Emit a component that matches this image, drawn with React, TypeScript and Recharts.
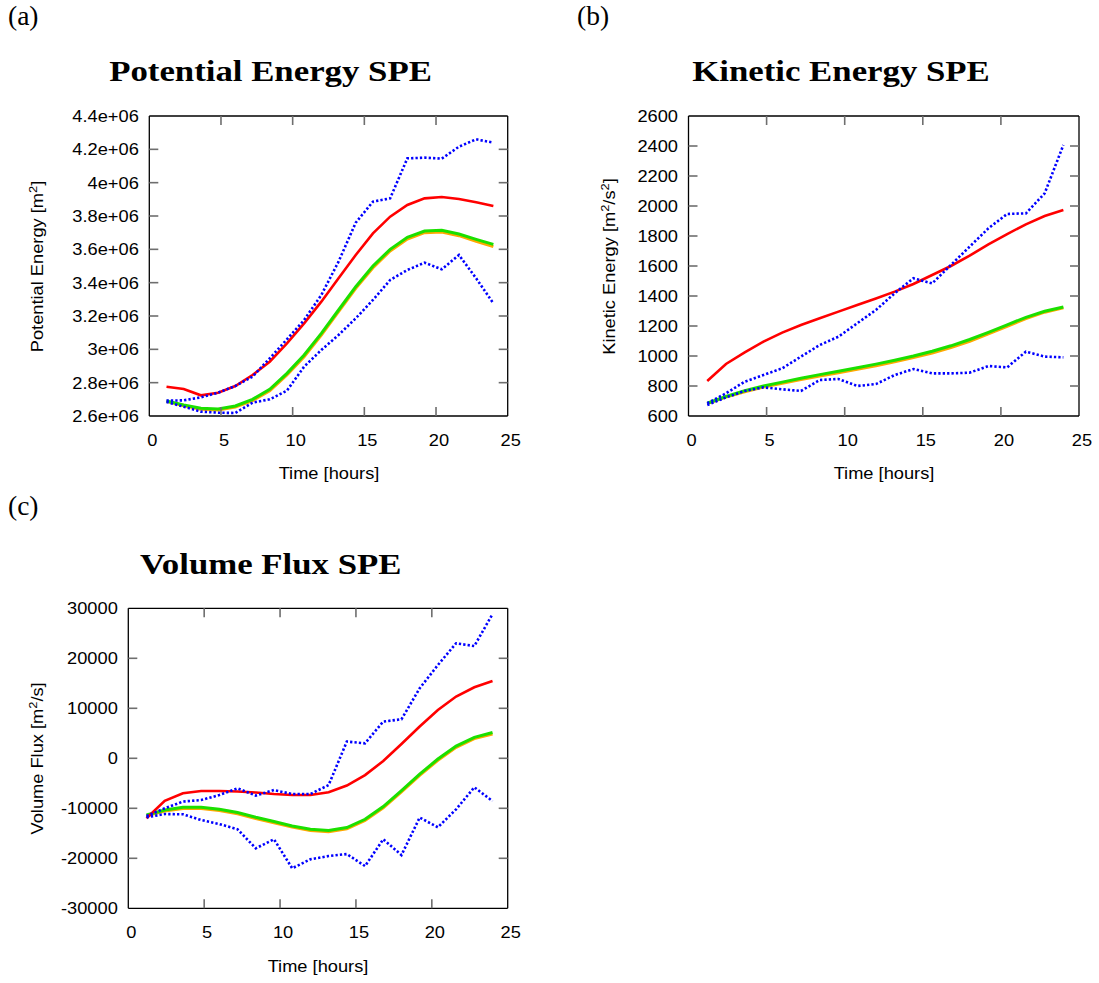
import { LineChart, Line, XAxis, YAxis } from "recharts";

// hours, shared by all three panels
const TIME_H = [1.2, 2.4, 3.6, 4.8, 6, 7.2, 8.4, 9.6, 10.8, 12, 13.2, 14.4, 15.6, 16.8, 18, 19.2, 20.4, 21.6, 22.8, 24];
const X_TICKS = [0, 5, 10, 15, 20, 25];

// (a) potential energy [m^2]
const PE_RED = [2776000, 2762000, 2724000, 2740000, 2780000, 2846000, 2926000, 3036000, 3156000, 3286000, 3426000, 3566000, 3696000, 3796000, 3866000, 3906000, 3914000, 3902000, 3882000, 3860000];
const PE_GREEN = [2690000, 2666000, 2646000, 2642000, 2660000, 2700000, 2760000, 2856000, 2966000, 3096000, 3236000, 3376000, 3500000, 3600000, 3672000, 3710000, 3714000, 3692000, 3660000, 3630000];
const PE_ORANGE = [2688000, 2662000, 2641000, 2636000, 2653000, 2692000, 2751000, 2846000, 2956000, 3086000, 3226000, 3366000, 3490000, 3590000, 3662000, 3700000, 3704000, 3682000, 3648000, 3616000];
const PE_HI = [2692000, 2694000, 2712000, 2740000, 2780000, 2836000, 2946000, 3060000, 3176000, 3326000, 3526000, 3760000, 3886000, 3906000, 4146000, 4150000, 4144000, 4216000, 4260000, 4240000];
const PE_LO = [2684000, 2656000, 2626000, 2620000, 2618000, 2680000, 2700000, 2752000, 2896000, 2996000, 3086000, 3186000, 3296000, 3416000, 3476000, 3520000, 3480000, 3566000, 3426000, 3276000];
const PE_TICKS = [2600000, 2800000, 3000000, 3200000, 3400000, 3600000, 3800000, 4000000, 4200000, 4400000];
const PE_TICK_LABELS = ["2.6e+06", "2.8e+06", "3e+06", "3.2e+06", "3.4e+06", "3.6e+06", "3.8e+06", "4e+06", "4.2e+06", "4.4e+06"];

// (b) kinetic energy [m^2/s^2]
const KE_RED = [833, 947, 1024, 1096, 1156, 1207, 1251, 1296, 1340, 1384, 1429, 1480, 1540, 1600, 1669, 1744, 1813, 1878, 1933, 1973];
const KE_GREEN = [685, 730, 768, 800, 826, 852, 876, 899, 922, 946, 972, 1000, 1032, 1068, 1110, 1158, 1208, 1258, 1298, 1327];
const KE_ORANGE = [682, 726, 762, 793, 818, 843, 866, 889, 912, 935, 961, 989, 1020, 1056, 1098, 1147, 1198, 1250, 1292, 1322];
const KE_HI = [685, 751, 829, 873, 918, 996, 1073, 1129, 1218, 1307, 1418, 1518, 1484, 1607, 1729, 1851, 1947, 1951, 2084, 2407];
const KE_LO = [673, 724, 767, 791, 778, 767, 840, 847, 800, 813, 873, 913, 884, 884, 889, 933, 924, 1029, 996, 991];
const KE_TICKS = [600, 800, 1000, 1200, 1400, 1600, 1800, 2000, 2200, 2400, 2600];
const KE_TICK_LABELS = ["600", "800", "1000", "1200", "1400", "1600", "1800", "2000", "2200", "2400", "2600"];

// (c) volume flux [m^2/s]
const VF_RED = [-12000, -8500, -7000, -6550, -6550, -6650, -6850, -7150, -7350, -7350, -6800, -5450, -3350, -550, 2850, 6350, 9650, 12350, 14200, 15450];
const VF_GREEN = [-11350, -10350, -9800, -9800, -10200, -10850, -11800, -12650, -13550, -14200, -14450, -13850, -12200, -9650, -6450, -3150, -150, 2450, 4200, 5150];
const VF_ORANGE = [-11500, -10550, -10050, -10050, -10450, -11100, -12050, -12900, -13750, -14450, -14700, -14100, -12450, -9900, -6700, -3400, -400, 2200, 3950, 4850];
const VF_HI = [-11550, -10000, -8650, -8350, -7350, -6000, -7450, -6350, -7150, -7150, -5350, 3350, 3000, 7350, 7800, 14000, 18650, 23000, 22450, 28850];
const VF_LO = [-11800, -11150, -11200, -12350, -13150, -14200, -18000, -16200, -22000, -20200, -19550, -19150, -21550, -16200, -19350, -11850, -13800, -10200, -5800, -8550];
const VF_TICKS = [-30000, -20000, -10000, 0, 10000, 20000, 30000];
const VF_TICK_LABELS = ["-30000", "-20000", "-10000", "0", "10000", "20000", "30000"];

const SANS = "'Liberation Sans', Arial, Helvetica, sans-serif";
const SERIF = "'Liberation Serif', 'Times New Roman', serif";
const TICK_COLOR = "#6e6e6e";
const TICK_LEN = 9;
const LABEL_SIZE = 16.3;
const STRETCH = 1.12;

const COLORS = {
  red: "#ff0000",
  green: "#1be000",
  orange: "#ffa800",
  blue: "#0000ff",
};

const styles = {
  page: {
    position: "absolute" as const,
    left: 0,
    top: 0,
    width: 1099,
    height: 983,
    background: "#ffffff",
  },
  overlay: {
    position: "absolute" as const,
    left: 0,
    top: 0,
    pointerEvents: "none" as const,
  },
};

type Row = { t: number; red: number; green: number; orange: number; hi: number; lo: number };

function buildRows(red: number[], green: number[], orange: number[], hi: number[], lo: number[]): Row[] {
  return TIME_H.map((t, i) => ({ t, red: red[i], green: green[i], orange: orange[i], hi: hi[i], lo: lo[i] }));
}

// plot box in chart-local pixels; axes get 1px so recharts still draws them
type Box = { top: number; right: number; bottom: number; left: number };

type PanelProps = {
  left: number;
  top: number;
  width: number;
  height: number;
  plot: Box;
  rows: Row[];
  yTicks: number[];
  yTickLabels: string[];
};

function Panel({ left, top, width, height, plot, rows, yTicks, yTickLabels }: PanelProps) {
  const yDomain: [number, number] = [yTicks[0], yTicks[yTicks.length - 1]];
  const isXEdge = (v: number) => v === X_TICKS[0] || v === X_TICKS[X_TICKS.length - 1];
  const isYEdge = (v: number) => v === yDomain[0] || v === yDomain[1];
  const margin = { top: plot.top - 1, right: plot.right - 1, bottom: plot.bottom - 1, left: plot.left - 1 };

  const bottomTick = (p: any) => {
    const v = p.payload.value;
    return (
      <g>
        {!isXEdge(v) && <line x1={p.x} x2={p.x} y1={p.y} y2={p.y - TICK_LEN} stroke={TICK_COLOR} strokeWidth={1.6} />}
        <text
          transform={`translate(${p.x + 3},${p.y + 30}) scale(${STRETCH},1)`}
          textAnchor="middle"
          fontFamily={SANS}
          fontSize={LABEL_SIZE}
          fill="#000"
        >
          {v}
        </text>
      </g>
    );
  };

  const topTick = (p: any) =>
    isXEdge(p.payload.value) ? <g /> : (
      <line x1={p.x} x2={p.x} y1={p.y} y2={p.y + TICK_LEN} stroke={TICK_COLOR} strokeWidth={1.6} />
    );

  const leftTick = (p: any) => {
    const v = p.payload.value;
    const idx = yTicks.indexOf(v);
    return (
      <g>
        {!isYEdge(v) && <line x1={p.x} x2={p.x + TICK_LEN} y1={p.y} y2={p.y} stroke={TICK_COLOR} strokeWidth={1.6} />}
        <text
          transform={`translate(${p.x - 10.5},${p.y + 6}) scale(${STRETCH},1)`}
          textAnchor="end"
          fontFamily={SANS}
          fontSize={LABEL_SIZE}
          fill="#000"
        >
          {yTickLabels[idx]}
        </text>
      </g>
    );
  };

  const rightTick = (p: any) =>
    isYEdge(p.payload.value) ? <g /> : (
      <line x1={p.x} x2={p.x - TICK_LEN} y1={p.y} y2={p.y} stroke={TICK_COLOR} strokeWidth={1.6} />
    );

  const border = { stroke: "#000", strokeWidth: 1.3 };

  return (
    <div style={{ position: "absolute", left, top }}>
      <LineChart width={width} height={height} data={rows} margin={margin}>
        <XAxis
          dataKey="t"
          type="number"
          domain={[0, 25]}
          ticks={X_TICKS}
          interval={0}
          height={1}
          tickSize={0}
          tickMargin={0}
          tickLine={false}
          axisLine={border}
          tick={bottomTick}
          allowDataOverflow
        />
        <XAxis
          xAxisId="top"
          orientation="top"
          dataKey="t"
          type="number"
          domain={[0, 25]}
          ticks={X_TICKS}
          interval={0}
          height={1}
          tickSize={0}
          tickMargin={0}
          tickLine={false}
          axisLine={border}
          tick={topTick}
          allowDataOverflow
        />
        <YAxis
          type="number"
          domain={yDomain}
          ticks={yTicks}
          interval={0}
          width={1}
          tickSize={0}
          tickMargin={0}
          tickLine={false}
          axisLine={border}
          tick={leftTick}
          allowDataOverflow
        />
        <YAxis
          yAxisId="right"
          orientation="right"
          dataKey="red"
          type="number"
          domain={yDomain}
          ticks={yTicks}
          interval={0}
          width={1}
          tickSize={0}
          tickMargin={0}
          tickLine={false}
          axisLine={border}
          tick={rightTick}
          allowDataOverflow
        />
        <Line type="linear" dataKey="orange" stroke={COLORS.orange} strokeWidth={3} dot={false} activeDot={false} isAnimationActive={false} />
        <Line type="linear" dataKey="green" stroke={COLORS.green} strokeWidth={3} dot={false} activeDot={false} isAnimationActive={false} />
        <Line type="linear" dataKey="red" stroke={COLORS.red} strokeWidth={2.6} dot={false} activeDot={false} isAnimationActive={false} />
        <Line type="linear" dataKey="hi" stroke={COLORS.blue} strokeWidth={2.6} strokeDasharray="2.3 2.1" dot={false} activeDot={false} isAnimationActive={false} />
        <Line type="linear" dataKey="lo" stroke={COLORS.blue} strokeWidth={2.6} strokeDasharray="2.3 2.1" dot={false} activeDot={false} isAnimationActive={false} />
      </LineChart>
    </div>
  );
}

function Sup({ children }: { children: string }) {
  return (
    <tspan dy={-6.5} fontSize={11.5}>
      {children}
    </tspan>
  );
}

function SansText({ x, y, rotate, children }: { x: number; y: number; rotate?: boolean; children: React.ReactNode }) {
  const tf = rotate
    ? `translate(${x},${y}) rotate(-90) scale(${STRETCH},1)`
    : `translate(${x},${y}) scale(${STRETCH},1)`;
  return (
    <text transform={tf} textAnchor="middle" fontFamily={SANS} fontSize={LABEL_SIZE} fill="#000">
      {children}
    </text>
  );
}

function Title({ x, y, children }: { x: number; y: number; children: string }) {
  return (
    <text
      transform={`translate(${x},${y}) scale(1.16,1)`}
      textAnchor="middle"
      fontFamily={SERIF}
      fontWeight="bold"
      fontSize={30}
      fill="#000"
    >
      {children}
    </text>
  );
}

function Letter({ x, y, children }: { x: number; y: number; children: string }) {
  return (
    <text x={x} y={y} fontFamily={SERIF} fontSize={27.5} fill="#000">
      {children}
    </text>
  );
}

export default function App() {
  const peRows = buildRows(PE_RED, PE_GREEN, PE_ORANGE, PE_HI, PE_LO);
  const keRows = buildRows(KE_RED, KE_GREEN, KE_ORANGE, KE_HI, KE_LO);
  const vfRows = buildRows(VF_RED, VF_GREEN, VF_ORANGE, VF_HI, VF_LO);

  return (
    <div style={styles.page}>
      <Panel
        left={0}
        top={0}
        width={540}
        height={500}
        plot={{ top: 116, right: 32.3, bottom: 84, left: 149.3 }}
        rows={peRows}
        yTicks={PE_TICKS}
        yTickLabels={PE_TICK_LABELS}
      />
      <Panel
        left={560}
        top={0}
        width={539}
        height={500}
        plot={{ top: 116, right: 20, bottom: 84, left: 128.5 }}
        rows={keRows}
        yTicks={KE_TICKS}
        yTickLabels={KE_TICK_LABELS}
      />
      <Panel
        left={0}
        top={500}
        width={540}
        height={483}
        plot={{ top: 108.3, right: 32.3, bottom: 74.7, left: 128.3 }}
        rows={vfRows}
        yTicks={VF_TICKS}
        yTickLabels={VF_TICK_LABELS}
      />

      <svg width={1099} height={983} style={styles.overlay}>
        <Letter x={8} y={25}>(a)</Letter>
        <Letter x={577} y={25}>(b)</Letter>
        <Letter x={8} y={515}>(c)</Letter>

        <Title x={270.5} y={81}>Potential Energy SPE</Title>
        <Title x={841} y={81}>Kinetic Energy SPE</Title>
        <Title x={270.7} y={574}>Volume Flux SPE</Title>

        <SansText x={329} y={479.3}>Time [hours]</SansText>
        <SansText x={884} y={479.3}>Time [hours]</SansText>
        <SansText x={318} y={971.6}>Time [hours]</SansText>

        <SansText x={43} y={266.5} rotate>
          Potential Energy [m<Sup>2</Sup>
          <tspan dy={6.5}>]</tspan>
        </SansText>
        <SansText x={615} y={266.5} rotate>
          Kinetic Energy [m<Sup>2</Sup>
          <tspan dy={6.5}>/s</tspan>
          <Sup>2</Sup>
          <tspan dy={6.5}>]</tspan>
        </SansText>
        <SansText x={43} y={758.4} rotate>
          Volume Flux [m<Sup>2</Sup>
          <tspan dy={6.5}>/s]</tspan>
        </SansText>
      </svg>
    </div>
  );
}
